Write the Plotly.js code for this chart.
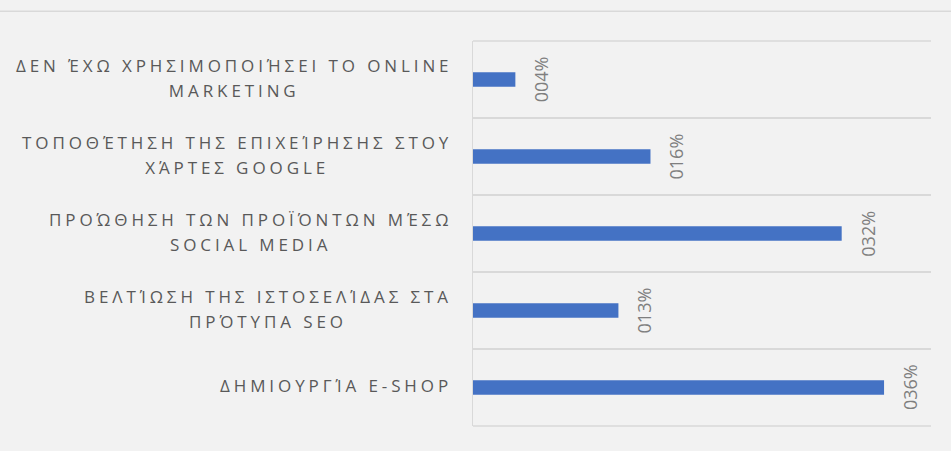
<!DOCTYPE html>
<html>
<head>
<meta charset="utf-8">
<script src="https://cdn.plot.ly/plotly-3.0.1.min.js"></script>
<style>html,body{margin:0;padding:0;background:#f2f2f2;}#chart{width:951px;height:451px;}</style>
</head>
<body>
<div id="chart"></div>
<script>
const categories = [
  "ΔΕΝ ΈΧΩ ΧΡΗΣΙΜΟΠΟΙΉΣΕΙ ΤΟ ONLINE<br>MARKETING",
  "ΤΟΠΟΘΈΤΗΣΗ ΤΗΣ ΕΠΙΧΕΊΡΗΣΗΣ ΣΤΟΥ<br>ΧΆΡΤΕΣ GOOGLE",
  "ΠΡΟΏΘΗΣΗ ΤΩΝ ΠΡΟΪΌΝΤΩΝ ΜΈΣΩ<br>SOCIAL MEDIA",
  "ΒΕΛΤΊΩΣΗ ΤΗΣ ΙΣΤΟΣΕΛΊΔΑΣ ΣΤΑ<br>ΠΡΌΤΥΠΑ SEO",
  "ΔΗΜΙΟΥΡΓΊΑ E-SHOP"
];
const values = [3.7, 15.5, 32.2, 12.7, 35.9];
const valueLabels = ["004%", "016%", "032%", "013%", "036%"];

const catKeys = categories.map((c, i) => "c" + i);

const labelSpan = s => '<span style="font-size:17px;letter-spacing:3.9px">' + s + '</span>';

const annotations = [];
categories.forEach((c, i) => {
  annotations.push({
    xref: 'paper', yref: 'y', x: 0, y: catKeys[i],
    xanchor: 'right', yanchor: 'middle', xshift: -19, yshift: 2,
    align: 'center', showarrow: false,
    text: c.split('<br>').map(labelSpan).join('<br>'),
    font: {family: 'Open Sans, sans-serif', size: 19.6, color: '#595959'}
  });
  annotations.push({
    xref: 'x', yref: 'y', x: values[i], y: catKeys[i],
    xanchor: 'center', yanchor: 'middle', xshift: 25.5,
    textangle: -90, showarrow: false,
    text: valueLabels[i],
    font: {family: 'Open Sans, sans-serif', size: 18, color: '#7f7f7f'}
  });
});

const trace = {
  type: 'bar', orientation: 'h',
  x: values, y: catKeys,
  marker: {color: '#4472c4'},
  width: 0.19,
  hoverinfo: 'x+y'
};

const gridLine = yp => ({
  type: 'line', xref: 'paper', yref: 'paper', x0: 0, x1: 1, y0: yp, y1: yp,
  line: {color: '#d9d9d9', width: 1.5}, layer: 'below'
});

const layout = {
  width: 951, height: 451,
  margin: {l: 473, r: 20, t: 40.5, b: 25},
  paper_bgcolor: '#f2f2f2', plot_bgcolor: '#f2f2f2',
  showlegend: false,
  xaxis: {range: [0, 40], showgrid: false, zeroline: false, showticklabels: false, showline: false, fixedrange: true},
  yaxis: {
    type: 'category', categoryarray: catKeys, range: [4.5, -0.5],
    tickson: 'boundaries', showgrid: true, gridcolor: '#d9d9d9', gridwidth: 1.5,
    showticklabels: false, ticks: '', showline: true, linecolor: '#d9d9d9', linewidth: 1.5,
    zeroline: false, fixedrange: true
  },
  shapes: [
    {
      type: 'line', xref: 'paper', yref: 'paper', x0: -2, x1: 2,
      y0: (426 - 10.7) / 385.5, y1: (426 - 10.7) / 385.5,
      line: {color: '#d9d9d9', width: 1.5}
    },
    gridLine(0), gridLine(1)
  ],
  annotations: annotations
};

Plotly.newPlot('chart', [trace], layout, {displayModeBar: false, staticPlot: true});
</script>
</body>
</html>
